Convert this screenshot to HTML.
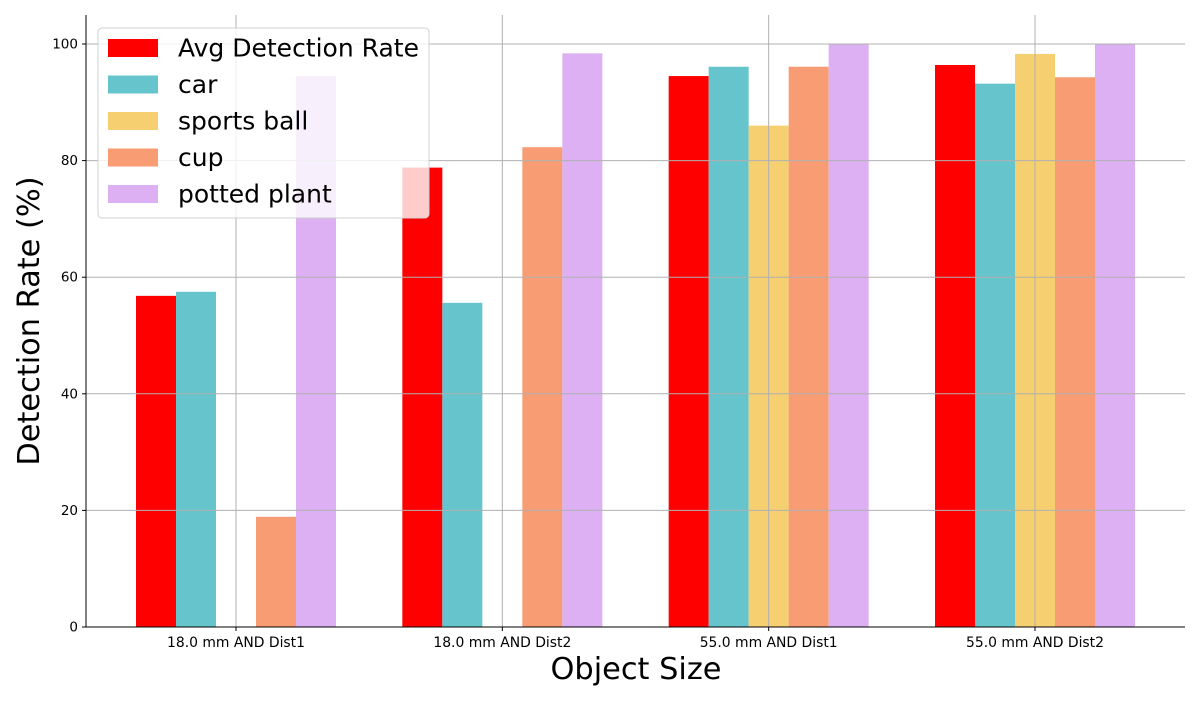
<!DOCTYPE html>
<html><head><meta charset="utf-8"><style>
body{margin:0;background:#fff;}
svg text{font-family:"DejaVu Sans","Liberation Sans",sans-serif;}
</style></head><body>
<svg id="chart" width="1200" height="700" xmlns="http://www.w3.org/2000/svg"></svg>
<script>
const categories=["18.0 mm AND Dist1","18.0 mm AND Dist2","55.0 mm AND Dist1","55.0 mm AND Dist2"];
const seriesNames=["Avg Detection Rate","car","sports ball","cup","potted plant"];
const avgRate=[56.8,78.8,94.5,96.4];
const carRate=[57.5,55.6,96.1,93.2];
const sportsRate=[0,0,86.0,98.3];
const cupRate=[18.9,82.3,96.1,94.3];
const plantRate=[94.5,98.4,100,100];
const yTicks=[0,20,40,60,80,100];
const colors=["#ff0000","#66c4cc","#f6cf71","#f89c74","#dcb0f2"];
const series=[avgRate,carRate,sportsRate,cupRate,plantRate];
const NS="http://www.w3.org/2000/svg";
const svg=document.getElementById('chart');
const L=86,R=1185,T=15,B=627;
const y=v=>B-v*(B-44)/100;
const x0=236,x3=1035;
const xc=i=>x0+(x3-x0)*i/(categories.length-1);
const bw=40;
function mk(tag,attrs,parent){const e=document.createElementNS(NS,tag);for(const k in attrs)e.setAttribute(k,attrs[k]);(parent||svg).appendChild(e);return e;}
series.forEach((s,si)=>{s.forEach((v,i)=>{
 const r=mk('rect',{x:xc(i)-2.5*bw+si*bw,y:y(v),width:bw,height:B-y(v),fill:colors[si]});
 
 
});});
yTicks.forEach(t=>{const g=mk('line',{x1:L,x2:R,y1:y(t),y2:y(t),stroke:'#b0b0b0','stroke-width':1});
 
 });
categories.forEach((c,i)=>{const g=mk('line',{x1:xc(i),x2:xc(i),y1:T,y2:B,stroke:'#b0b0b0','stroke-width':1});
 
 });
const ax=mk('path',{d:`M${L} ${T}V${B}H${R}`,stroke:'#000',fill:'none','stroke-width':1});


yTicks.forEach(t=>{mk('line',{x1:L-4,x2:L,y1:y(t),y2:y(t),stroke:'#000'});
 const tx=mk('text',{x:L-8,y:y(t)+4.5,'text-anchor':'end','font-size':13.5,fill:'#000'});tx.textContent=t;
 
 });
categories.forEach((c,i)=>{mk('line',{x1:xc(i),x2:xc(i),y1:B,y2:B+4,stroke:'#000'});
 const tx=mk('text',{x:xc(i),y:B+20,'text-anchor':'middle','font-size':13.9,fill:'#000'});tx.textContent=c;
 
 });
const xt=mk('text',{x:636,y:679,'text-anchor':'middle','font-size':30.4,fill:'#000'});xt.textContent='Object Size';


const yt=mk('text',{x:0,y:0,transform:`translate(39,321) rotate(-90)`,'text-anchor':'middle','font-size':30.4,fill:'#000'});yt.textContent='Detection Rate (%)';


const lg=mk('g',{});


mk('rect',{x:98,y:28,width:331,height:190,rx:4,fill:'#fff','fill-opacity':0.8,stroke:'#d0d0d0'},lg);
seriesNames.forEach((n,si)=>{const cy=48+si*36.5;
 const p=mk('rect',{x:108,y:cy-9,width:50,height:18,fill:colors[si]},lg);
 
 
 const tx=mk('text',{x:178,y:cy+8.5,'font-size':25,fill:'#000'},lg);tx.textContent=n;
 
 });
</script>
</body></html>
